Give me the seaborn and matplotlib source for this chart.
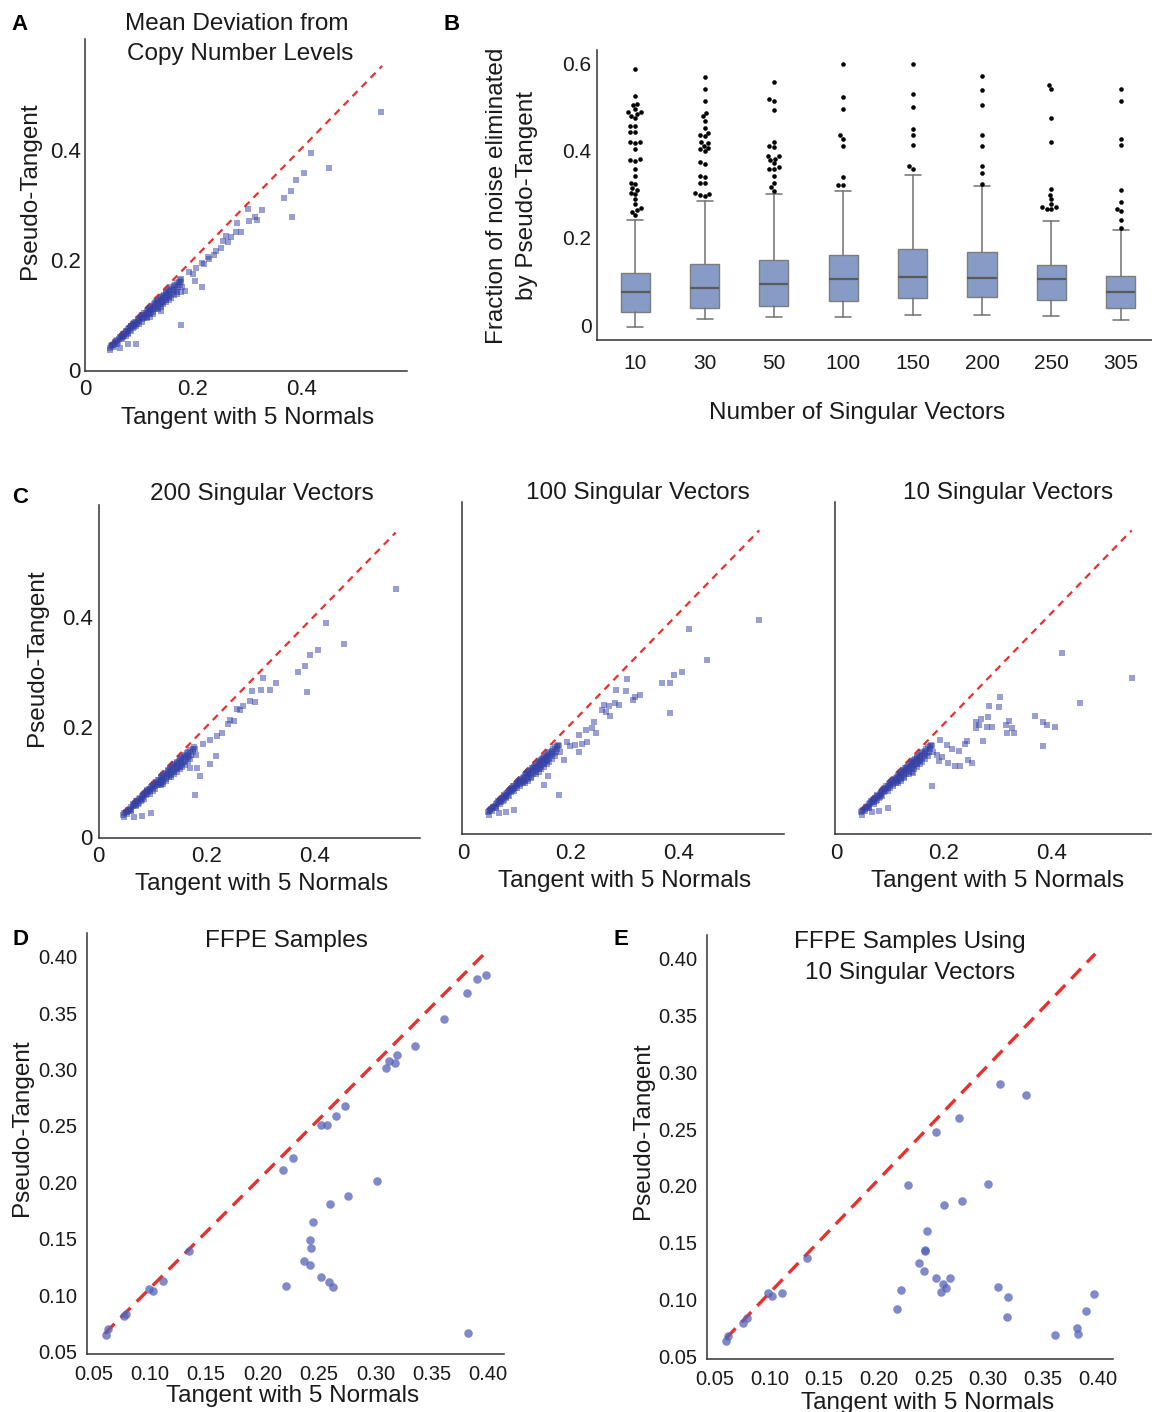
import numpy as np
import pandas as pd
import matplotlib
matplotlib.use("Agg")
import matplotlib.pyplot as plt
import seaborn as sns

# ---------------- DATA ----------------
# dense core of samples (Tangent with 5 Normals vs Pseudo-Tangent), seen alike in panels A and C
core_tangent = [0.046,0.047,0.048,0.050,0.052,0.053,0.055,0.056,0.058,0.060,
                0.061,0.063,0.064,0.066,0.068,0.069,0.070,0.072,0.073,0.075,
                0.076,0.078,0.079,0.080,0.082,0.083,0.085,0.086,0.088,0.089,
                0.090,0.092,0.093,0.095,0.096,0.098,0.099,0.100,0.102,0.103,
                0.105,0.106,0.108,0.109,0.110,0.112,0.113,0.115,0.116,0.118,
                0.119,0.120,0.122,0.123,0.125,0.126,0.128,0.129,0.130,0.132,
                0.133,0.135,0.136,0.138,0.139,0.140,0.142,0.143,0.145,0.146,
                0.148,0.149,0.150,0.152,0.153,0.155,0.156,0.158,0.160,0.162,
                0.164,0.166,0.168,0.170,0.172,0.174,0.176,
                0.150,0.140,0.125,0.115,0.100,0.090,0.080,0.070,0.160,0.165,
                0.145,0.135,0.155,0.130,0.120,
                0.060,0.075,0.085,0.095,0.105,0.115,0.125,0.135,0.145,0.155,
                0.165,0.110,0.120,0.140,0.150,0.160,0.170,0.175,0.178,0.180]
core_pseudo = [0.040,0.036,0.043,0.045,0.046,0.042,0.050,0.048,0.052,0.055,
               0.050,0.057,0.060,0.058,0.062,0.056,0.065,0.066,0.061,0.069,
               0.071,0.070,0.066,0.074,0.076,0.072,0.079,0.080,0.077,0.083,
               0.085,0.082,0.087,0.088,0.084,0.091,0.093,0.089,0.095,0.097,
               0.092,0.099,0.100,0.096,0.103,0.104,0.099,0.107,0.109,0.104,
               0.111,0.113,0.108,0.115,0.117,0.111,0.120,0.121,0.115,0.123,
               0.125,0.119,0.127,0.129,0.122,0.131,0.133,0.126,0.135,0.137,
               0.130,0.139,0.141,0.134,0.143,0.145,0.137,0.147,0.150,0.142,
               0.152,0.155,0.147,0.158,0.150,0.160,0.163,
               0.128,0.118,0.105,0.097,0.084,0.078,0.068,0.059,0.138,0.146,
               0.124,0.113,0.133,0.110,0.101,
               0.047,0.062,0.070,0.079,0.088,0.094,0.102,0.110,0.119,0.127,
               0.137,0.094,0.097,0.114,0.123,0.131,0.142,0.155,0.160,0.150]

# Panel A: sparse samples
a_tangent = [0.548,0.418,0.452,0.406,0.391,0.382,0.369,0.384,0.302,0.328,
             0.315,0.303,0.319,0.282,0.279,0.289,0.261,0.270,0.256,0.264,
             0.252,0.243,0.239,0.227,0.230,0.216,0.221,0.206,0.193,0.199,
             0.177,0.204,0.216,0.186,0.177,0.171,0.177,0.141,0.095,0.080,0.065]
a_pseudo = [0.470,0.394,0.368,0.358,0.345,0.325,0.312,0.278,0.292,0.290,
            0.278,0.270,0.273,0.268,0.251,0.251,0.244,0.242,0.235,0.233,
            0.221,0.217,0.209,0.205,0.201,0.194,0.192,0.185,0.179,0.174,
            0.165,0.161,0.150,0.143,0.141,0.138,0.081,0.107,0.047,0.047,0.039]

# Panel C: 200 singular vectors
c200_tangent = [0.550,0.421,0.454,0.407,0.391,0.382,0.370,0.385,0.304,0.328,
                0.317,0.301,0.284,0.280,0.290,0.257,0.267,0.262,0.244,0.251,
                0.239,0.228,0.219,0.207,0.193,0.217,0.206,0.187,0.182,0.178,
                0.169,0.097,0.080,0.066]
c200_pseudo = [0.451,0.389,0.350,0.340,0.330,0.311,0.299,0.263,0.289,0.280,
               0.268,0.267,0.266,0.247,0.246,0.233,0.238,0.230,0.212,0.211,
               0.205,0.189,0.183,0.177,0.169,0.148,0.132,0.111,0.126,0.076,
               0.125,0.044,0.038,0.037]
# Panel C: 100 singular vectors
c100_tangent = [0.550,0.420,0.453,0.407,0.392,0.385,0.370,0.385,0.305,0.284,
                0.303,0.329,0.320,0.316,0.262,0.270,0.281,0.290,0.258,0.265,
                0.273,0.243,0.240,0.247,0.228,0.215,0.230,0.220,0.207,0.215,
                0.193,0.199,0.188,0.178,0.150,0.158,0.095,0.080,0.067]
c100_pseudo = [0.389,0.373,0.318,0.295,0.289,0.276,0.275,0.220,0.283,0.262,
               0.260,0.253,0.250,0.245,0.236,0.233,0.238,0.235,0.227,0.223,
               0.216,0.204,0.194,0.185,0.190,0.180,0.168,0.164,0.162,0.149,
               0.168,0.161,0.135,0.072,0.090,0.106,0.045,0.041,0.039]
# Panel C: 10 singular vectors
c10_tangent = [0.550,0.420,0.453,0.370,0.385,0.392,0.407,0.385,0.305,0.284,
               0.303,0.282,0.269,0.259,0.266,0.260,0.280,0.290,0.321,0.316,
               0.327,0.318,0.331,0.273,0.243,0.239,0.229,0.216,0.245,0.252,
               0.230,0.221,0.208,0.197,0.190,0.187,0.206,0.193,0.178,0.143,
               0.096,0.079,0.066]
c10_pseudo = [0.284,0.329,0.238,0.216,0.204,0.198,0.195,0.160,0.249,0.233,
              0.231,0.213,0.210,0.204,0.198,0.194,0.196,0.196,0.207,0.198,
              0.193,0.185,0.185,0.169,0.170,0.164,0.152,0.156,0.135,0.129,
              0.125,0.124,0.129,0.140,0.133,0.144,0.162,0.171,0.088,0.111,
              0.047,0.042,0.041]

diag_x = [0.045, 0.550]
diag_y = [0.045, 0.553]

# Panel B: box statistics per number of singular vectors
box_labels = ['10', '30', '50', '100', '150', '200', '250', '305']
box_whislo = [-0.004, 0.014, 0.018, 0.019, 0.023, 0.023, 0.021, 0.013]
box_q1     = [0.031, 0.040, 0.044, 0.055, 0.063, 0.064, 0.057, 0.040]
box_med    = [0.075, 0.086, 0.094, 0.106, 0.111, 0.109, 0.105, 0.075]
box_q3     = [0.119, 0.141, 0.149, 0.161, 0.174, 0.167, 0.137, 0.112]
box_whishi = [0.242, 0.284, 0.300, 0.307, 0.344, 0.320, 0.238, 0.219]
fl_10 = [0.588,0.525,0.508,0.504,0.495,0.485,0.489,0.489,0.475,0.480,0.456,0.456,
         0.443,0.442,0.418,0.421,0.419,0.404,0.377,0.381,0.379,0.357,0.343,0.327,
         0.323,0.315,0.311,0.301,0.304,0.290,0.279,0.260,0.268,0.263,0.253]
fl_30 = [0.568,0.542,0.514,0.487,0.479,0.469,0.453,0.440,0.434,0.437,0.420,0.417,
         0.411,0.406,0.404,0.399,0.375,0.370,0.343,0.340,0.327,0.326,0.297,0.299,
         0.302,0.300]
fl_50 = [0.557,0.518,0.515,0.493,0.421,0.408,0.411,0.388,0.388,0.382,0.379,0.372,
         0.359,0.359,0.362,0.343,0.326,0.316,0.307]
fl_100 = [0.599,0.523,0.495,0.435,0.427,0.411,0.339,0.322,0.321]
fl_150 = [0.599,0.531,0.500,0.450,0.437,0.414,0.364,0.357]
fl_200 = [0.571,0.539,0.505,0.437,0.410,0.365,0.350,0.323]
fl_250 = [0.550,0.541,0.476,0.419,0.313,0.299,0.289,0.278,0.271,0.271,0.267,0.267]
fl_305 = [0.541,0.514,0.427,0.414,0.310,0.283,0.266,0.261,0.241,0.222]
fliers = [fl_10, fl_30, fl_50, fl_100, fl_150, fl_200, fl_250, fl_305]

# Panel D: FFPE samples
ffpe_tangent = [0.061,0.063,0.077,0.079,0.099,0.103,0.112,0.135,0.218,0.227,
                0.252,0.257,0.265,0.273,0.309,0.312,0.317,0.319,0.335,0.361,
                0.381,0.390,0.398,0.301,0.276,0.260,0.245,0.242,0.243,0.237,
                0.242,0.221,0.252,0.259,0.262,0.382]
ffpe_pseudo = [0.065,0.070,0.082,0.083,0.106,0.104,0.113,0.139,0.211,0.222,
               0.251,0.251,0.259,0.268,0.301,0.308,0.306,0.313,0.321,0.345,
               0.368,0.380,0.384,0.201,0.188,0.181,0.165,0.149,0.142,0.130,
               0.127,0.108,0.116,0.112,0.107,0.067]
# Panel E: FFPE samples using 10 singular vectors
ffpe10_tangent = [0.060,0.062,0.076,0.079,0.099,0.102,0.111,0.134,0.217,0.220,
                  0.227,0.237,0.241,0.242,0.242,0.244,0.252,0.252,0.259,0.257,
                  0.261,0.265,0.260,0.273,0.276,0.300,0.311,0.335,0.309,0.318,
                  0.317,0.361,0.381,0.382,0.390,0.397]
ffpe10_pseudo = [0.064,0.068,0.080,0.084,0.106,0.103,0.106,0.137,0.092,0.109,
                 0.201,0.132,0.125,0.144,0.143,0.160,0.247,0.119,0.114,0.107,
                 0.110,0.119,0.183,0.260,0.187,0.202,0.290,0.280,0.111,0.102,
                 0.085,0.069,0.075,0.070,0.090,0.105]
ffpe_diag_x = [0.060, 0.398]
ffpe_diag_y = [0.066, 0.404]

sc_ticks = [0, 0.2, 0.4]
sc_ticklabels = ['0', '0.2', '0.4']
b_yticks = [0, 0.2, 0.4, 0.6]
b_yticklabels = ['0', '0.2', '0.4', '0.6']
f_ticks = [0.05, 0.10, 0.15, 0.20, 0.25, 0.30, 0.35, 0.40]
f_ticklabels = ['0.05', '0.10', '0.15', '0.20', '0.25', '0.30', '0.35', '0.40']

# ---------------- STYLE ----------------
sns.set_theme(style='white')
plt.rcParams['font.family'] = ['Liberation Sans', 'DejaVu Sans']
plt.rcParams['text.color'] = '#1a1a1a'
plt.rcParams['xtick.color'] = '#1a1a1a'
plt.rcParams['ytick.color'] = '#1a1a1a'

W, H = 1152, 1412
fig = plt.figure(figsize=(W / 100, H / 100), dpi=100)

RED = '#e8302e'
SQ = '#3440a6'
DOT = '#5563b8'
LAB = 17.5
TIT = 17.5


def add_ax(l, t, r, b):
    return fig.add_axes([l / W, 1 - b / H, (r - l) / W, (b - t) / H])


def ftext(x, y, s, **kw):
    kw.setdefault('ha', 'center')
    kw.setdefault('va', 'baseline')
    fig.text(x / W, 1 - y / H, s, **kw)


def style(ax):
    sns.despine(ax=ax)
    for s in ['left', 'bottom']:
        ax.spines[s].set_color('#333333')
        ax.spines[s].set_linewidth(1.1)
    ax.set_xlabel('')
    ax.set_ylabel('')


def square_panel(ax, t, p, xlim, ylim, ylabels=True, ticks_in=True):
    df = pd.DataFrame({'t': core_tangent + t, 'p': core_pseudo + p})
    ax.plot(diag_x, diag_y, color=RED, lw=1.6, dashes=(3.2, 2.6), zorder=1)
    sns.scatterplot(data=df, x='t', y='p', marker='s', s=15, color=SQ, alpha=0.5,
                    linewidth=0, ax=ax, legend=False, zorder=2)
    ax.set_xlim(*xlim)
    ax.set_ylim(*ylim)
    style(ax)
    if ticks_in:
        ax.set_xticks([0, 0.1, 0.2, 0.3, 0.4, 0.5])
        ax.set_xticklabels(['0', '', '0.2', '', '0.4', ''])
        ax.set_yticks([0, 0.1, 0.2, 0.3, 0.4, 0.5])
        if ylabels:
            ax.set_yticklabels(['0', '', '0.2', '', '0.4', ''])
        else:
            ax.set_yticklabels([])
        ax.tick_params(direction='in', length=3, width=0.6, colors='#1a1a1a',
                       labelsize=16)
        ax.tick_params(axis='x', pad=6)
        ax.tick_params(axis='y', pad=4)
    else:
        ax.set_xticks(sc_ticks)
        ax.set_xticklabels(sc_ticklabels)
        ax.set_yticks(sc_ticks)
        ax.set_yticklabels(sc_ticklabels)
        ax.tick_params(length=0, labelsize=16)
        ax.tick_params(axis='x', pad=6)
        ax.tick_params(axis='y', pad=3)


# ---------------- PANEL A ----------------
axA = add_ax(85, 39, 407, 371)
square_panel(axA, a_tangent, a_pseudo, (0, 0.596), (-0.002, 0.602), ticks_in=False)
ftext(237, 30, 'Mean Deviation from', fontsize=TIT)
ftext(240, 60, 'Copy Number Levels', fontsize=TIT)
ftext(248, 424, 'Tangent with 5 Normals', fontsize=LAB)
ftext(30, 191, 'Pseudo-Tangent', fontsize=LAB, rotation=90, va='center')

# ---------------- PANEL B ----------------
axB = add_ax(597, 50, 1152, 340)
stats = []
for i, lab in enumerate(box_labels):
    stats.append(dict(label=lab, whislo=box_whislo[i], q1=box_q1[i], med=box_med[i],
                      q3=box_q3[i], whishi=box_whishi[i], fliers=[]))
axB.bxp(stats, positions=list(range(len(box_labels))), widths=0.42, patch_artist=True,
        showfliers=False, capwidths=0.23,
        boxprops=dict(facecolor='#869bc5', edgecolor='#7d7d7d', linewidth=1.0),
        medianprops=dict(color='#5a5a5a', linewidth=1.6),
        whiskerprops=dict(color='#707070', linewidth=1.1),
        capprops=dict(color='#707070', linewidth=1.1))
fl_df = pd.concat([pd.DataFrame({'grp': lab, 'val': vals})
                   for lab, vals in zip(box_labels, fliers)], ignore_index=True)
sns.swarmplot(data=fl_df, x='grp', y='val', order=box_labels, color='black',
              size=3.3, ax=axB, zorder=3)
axB.set_xticks(range(len(box_labels)))
axB.set_xticklabels(box_labels)
axB.set_xlim(-0.55, 7.45)
axB.set_ylim(-0.034, 0.631)
axB.set_yticks(b_yticks)
axB.set_yticklabels(b_yticklabels)
style(axB)
axB.tick_params(length=0, labelsize=15)
axB.tick_params(axis='x', pad=10)
axB.tick_params(axis='y', pad=4)
ftext(857, 419, 'Number of Singular Vectors', fontsize=LAB)
ftext(497, 196, 'Fraction of noise eliminated', fontsize=LAB, rotation=90, va='center')
ftext(527, 196, 'by Pseudo-Tangent', fontsize=LAB, rotation=90, va='center')

# ---------------- PANEL C ----------------
axC1 = add_ax(98.5, 505, 420, 837.7)
square_panel(axC1, c200_tangent, c200_pseudo, (0, 0.595), (-0.001, 0.603))
axC2 = add_ax(461.7, 502.3, 784, 834.3)
square_panel(axC2, c100_tangent, c100_pseudo, (-0.003, 0.596), (0, 0.604), ylabels=False)
axC3 = add_ax(835, 502.3, 1151.5, 834.3)
square_panel(axC3, c10_tangent, c10_pseudo, (-0.003, 0.587), (0, 0.604), ylabels=False)

ftext(262, 500, '200 Singular Vectors', fontsize=TIT)
ftext(637.5, 499, '100 Singular Vectors', fontsize=TIT)
ftext(1008, 499, '10 Singular Vectors', fontsize=TIT)
ftext(261.7, 890, 'Tangent with 5 Normals', fontsize=LAB)
ftext(625, 887, 'Tangent with 5 Normals', fontsize=LAB)
ftext(998, 887.5, 'Tangent with 5 Normals', fontsize=LAB)
ftext(36.7, 658, 'Pseudo-Tangent', fontsize=LAB, rotation=90, va='center')


# ---------------- PANELS D and E ----------------
def ffpe_panel(ax, t, p, xlim, ylim):
    df = pd.DataFrame({'t': t, 'p': p})
    ax.plot(ffpe_diag_x, ffpe_diag_y, color=RED, lw=2.4, dashes=(4.2, 2.6), zorder=1)
    sns.scatterplot(data=df, x='t', y='p', marker='o', s=38, color=DOT, alpha=0.75,
                    linewidth=0, ax=ax, legend=False, zorder=2)
    ax.set_xlim(*xlim)
    ax.set_ylim(*ylim)
    ax.set_xticks(f_ticks)
    ax.set_xticklabels(f_ticklabels)
    ax.set_yticks(f_ticks)
    ax.set_yticklabels(f_ticklabels)
    style(ax)
    ax.tick_params(length=0, labelsize=14.5)
    ax.tick_params(axis='x', pad=8)
    ax.tick_params(axis='y', pad=7)


axD = add_ax(86.7, 933.3, 504, 1354)
ffpe_panel(axD, ffpe_tangent, ffpe_pseudo, (0.0441, 0.414), (0.048, 0.4207))
ftext(286.7, 946.7, 'FFPE Samples', fontsize=TIT)
ftext(293, 1401.7, 'Tangent with 5 Normals', fontsize=LAB)
ftext(21.7, 1127.5, 'Pseudo-Tangent', fontsize=LAB, rotation=90, va='center')

axE = add_ax(707.3, 935, 1112.7, 1359.3)
ffpe_panel(axE, ffpe10_tangent, ffpe10_pseudo, (0.043, 0.414), (0.0477, 0.4205))
ftext(909.7, 948.3, 'FFPE Samples Using', fontsize=TIT)
ftext(910, 979.3, '10 Singular Vectors', fontsize=TIT)
ftext(928, 1409, 'Tangent with 5 Normals', fontsize=LAB)
ftext(643, 1131, 'Pseudo-Tangent', fontsize=LAB, rotation=90, va='center')

# ---------------- panel letters ----------------
for letter, (x, y) in zip('ABCDE', [(20, 30), (452, 30), (20, 503), (20, 945), (621, 945)]):
    ftext(x, y, letter, fontsize=16, fontweight='bold', color='black')

fig.savefig('out.png', dpi=100)
